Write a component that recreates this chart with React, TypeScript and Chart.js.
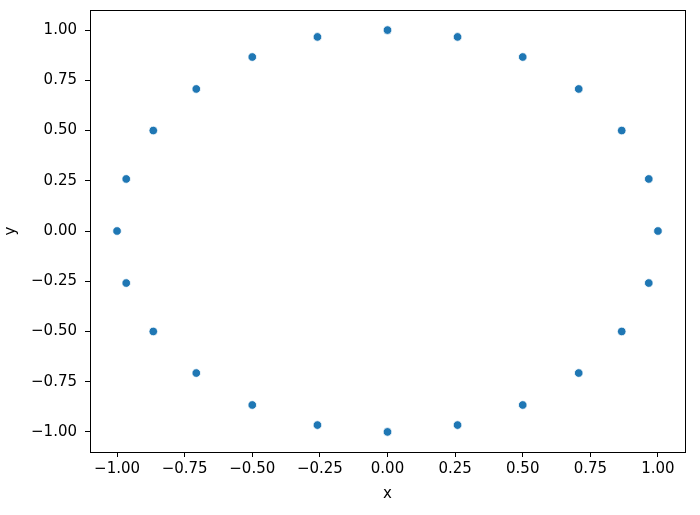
import React, { useEffect, useRef } from "react";
import { Chart, registerables } from "chart.js";

Chart.register(...registerables);

const xValues = [1, 0.966, 0.866, 0.707, 0.5, 0.259, 0, -0.259, -0.5, -0.707, -0.866, -0.966, -1, -0.966, -0.866, -0.707, -0.5, -0.259, 0, 0.259, 0.5, 0.707, 0.866, 0.966];
const yValues = [0, 0.259, 0.5, 0.707, 0.866, 0.966, 1, 0.966, 0.866, 0.707, 0.5, 0.259, 0, -0.259, -0.5, -0.707, -0.866, -0.966, -1, -0.966, -0.866, -0.707, -0.5, -0.259];
const tickValues = [-1, -0.75, -0.5, -0.25, 0, 0.25, 0.5, 0.75, 1];

const fmt = (v: number) => {
  const s = Math.abs(v).toFixed(2);
  return v < -1e-9 ? "\u2212" + s : s;
};

const framePlugin = {
  id: "frame",
  afterDraw(chart: any) {
    const { ctx, chartArea } = chart;
    ctx.save();
    ctx.strokeStyle = "#000";
    ctx.lineWidth = 1;
    ctx.strokeRect(
      Math.round(chartArea.left) + 0.5,
      Math.round(chartArea.top) + 0.5,
      Math.round(chartArea.right - chartArea.left),
      Math.round(chartArea.bottom - chartArea.top)
    );
    ctx.restore();
  },
};

export default function App() {
  const ref = useRef<HTMLCanvasElement | null>(null);
  useEffect(() => {
    if (!ref.current) return;
    const font = { family: "DejaVu Sans", size: 15 };
    const axisCommon = (id: string) => ({
      type: "linear" as const,
      min: -1.1,
      max: 1.1,
      afterBuildTicks: (axis: any) => {
        axis.ticks = tickValues.map((v) => ({ value: v }));
      },
      ticks: {
        font,
        color: "#000",
        padding: id === "x" ? 3 : 8,
        callback: (v: any) => fmt(Number(v)),
        autoSkip: false,
        maxRotation: 0,
      },
      grid: {
        drawOnChartArea: false,
        drawTicks: true,
        tickLength: 5,
        color: "#000",
        lineWidth: 1,
      },
      border: { display: false },
      title: {
        display: true,
        text: id,
        font,
        color: "#000",
        padding: { top: 2, bottom: 2 },
      },
    });
    const chart = new Chart(ref.current, {
      type: "scatter",
      data: {
        datasets: [
          {
            data: xValues.map((x, i) => ({ x, y: yValues[i] })),
            backgroundColor: "#1f77b4",
            borderColor: "#ffffff",
            borderWidth: 0.8,
            pointRadius: 4.3,
          },
        ],
      },
      options: {
        animation: false,
        responsive: false,
        devicePixelRatio: 1,
        layout: { padding: { top: 10, right: 15, left: 0, bottom: 10 } },
        plugins: { legend: { display: false }, tooltip: { enabled: false } },
        scales: {
          x: {
            ...axisCommon("x"),
            afterFit: (axis: any) => {
              axis.height = 53;
              axis.paddingLeft = 0;
              axis.paddingRight = 0;
            },
          },
          y: {
            ...axisCommon("y"),
            afterFit: (axis: any) => {
              axis.width = 90;
              axis.paddingTop = 0;
              axis.paddingBottom = 0;
            },
          },
        },
      },
      plugins: [framePlugin],
    });
    return () => chart.destroy();
  }, []);
  return (
    <div style={{ position: "fixed", left: 0, top: 0, width: 700, height: 515, background: "#fff" }}>
      <canvas ref={ref} width={700} height={515} style={{ width: 700, height: 515 }} />
    </div>
  );
}
